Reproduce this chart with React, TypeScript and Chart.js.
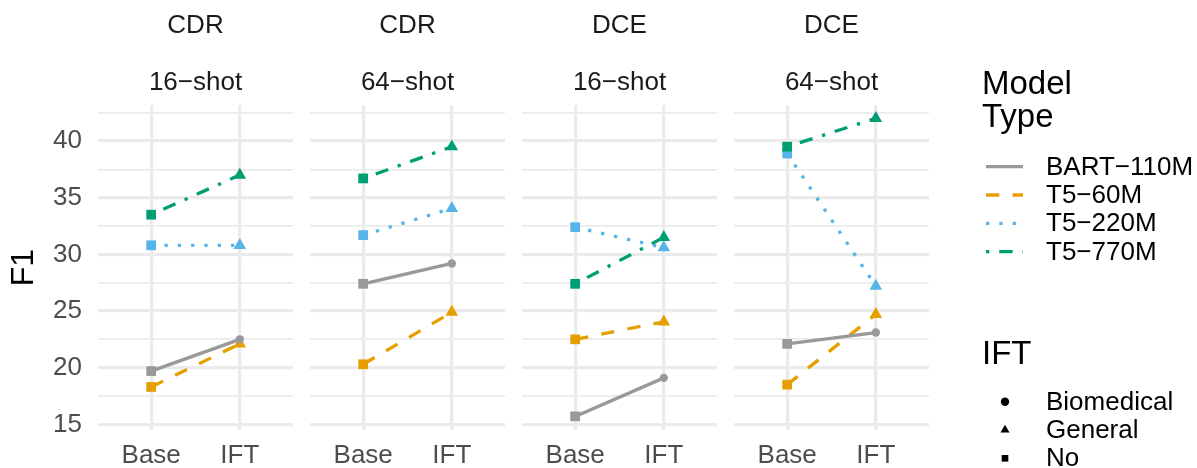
import React, { useEffect, useRef } from 'react';
import { Chart, registerables } from 'chart.js';

Chart.register(...registerables);

// ---- data ----
const stripTask = ['CDR', 'CDR', 'DCE', 'DCE'];
const stripShot = ['16−shot', '64−shot', '16−shot', '64−shot'];
const xLabels = ['Base', 'IFT'];
const yGridValues = [15, 17.5, 20, 22.5, 25, 27.5, 30, 32.5, 35, 37.5, 40, 42.5];
const yLabelValues = [15, 20, 25, 30, 35, 40];

const modelNames = ['BART−110M', 'T5−60M', 'T5−220M', 'T5−770M'];
const modelIFTType = ['Biomedical', 'General', 'General', 'General'];
const iftTypes = ['Biomedical', 'General', 'No'];

// one value per panel: CDR16, CDR64, DCE16, DCE64
const bartBase = [19.7, 27.4, 15.7, 22.1];
const bartIFT = [22.5, 29.2, 19.1, 23.1];
const t5s60Base = [18.3, 20.3, 22.5, 18.5];
const t5s60IFT = [22.1, 24.9, 24.05, 24.7];
const t5s220Base = [30.8, 31.7, 32.4, 38.9];
const t5s220IFT = [30.8, 34.05, 30.6, 27.2];
const t5s770Base = [33.5, 36.7, 27.4, 39.5];
const t5s770IFT = [37.0, 39.5, 31.5, 42.0];

const baseValues = [bartBase, t5s60Base, t5s220Base, t5s770Base];
const iftValues = [bartIFT, t5s60IFT, t5s220IFT, t5s770IFT];

// ---- styles ----
const W = 1197;
const H = 468;
const FONT = "'Liberation Sans', Arial, Helvetica, sans-serif";
const modelColors = ['#999999', '#E69F00', '#56B4E9', '#009E73'];
const modelDash = [[], [13.3, 13.3], [3.3, 10], [3.3, 10, 13.3, 10]];
const drawRank = [2, 3, 1, 0]; // lower = on top
const shapeStyle: Record<string, string> = { Biomedical: 'circle', General: 'triangle', No: 'rect' };
const shapeRadius: Record<string, number> = { Biomedical: 4.2, General: 7.3, No: 6.9 };
const legendShapeRadius: Record<string, number> = { Biomedical: 4.2, General: 5.2, No: 4.7 };
const panelLeft = [98, 310, 522, 734];
const panelWidth = 195;
const GRID = '#EBEBEB';

const legendPlugin = {
  id: 'ggLegend',
  afterDraw(chart: any) {
    const ctx = chart.ctx;
    ctx.save();
    ctx.fillStyle = '#000000';
    ctx.textAlign = 'left';
    ctx.textBaseline = 'alphabetic';
    ctx.font = `33px ${FONT}`;
    ctx.fillText('Model', 982, 93.5);
    ctx.fillText('Type', 982, 126.5);
    ctx.fillText('IFT', 982, 363.5);

    const itemY = [166.7, 195, 223.3, 251.7];
    modelNames.forEach((name, i) => {
      ctx.save();
      ctx.strokeStyle = modelColors[i];
      ctx.lineWidth = 3.3;
      ctx.lineCap = 'butt';
      ctx.setLineDash(modelDash[i]);
      ctx.beginPath();
      ctx.moveTo(986, itemY[i]);
      ctx.lineTo(1023, itemY[i]);
      ctx.stroke();
      ctx.restore();
      ctx.font = `26px ${FONT}`;
      ctx.textBaseline = 'middle';
      ctx.fillStyle = '#000000';
      ctx.fillText(name, 1046, itemY[i] + 1);
    });

    const shapeY = [401.7, 430, 458.3];
    iftTypes.forEach((t, i) => {
      ctx.fillStyle = '#000000';
      ctx.strokeStyle = '#000000';
      (Chart as any).helpers?.drawPoint;
      drawShape(ctx, shapeStyle[t], 1005, shapeY[i], legendShapeRadius[t]);
      ctx.font = `26px ${FONT}`;
      ctx.textBaseline = 'middle';
      ctx.fillText(t, 1046, shapeY[i] + 1);
    });
    ctx.restore();
  },
};

function drawShape(ctx: CanvasRenderingContext2D, style: string, x: number, y: number, r: number) {
  ctx.beginPath();
  if (style === 'circle') {
    ctx.arc(x, y, r, 0, Math.PI * 2);
  } else if (style === 'triangle') {
    ctx.moveTo(x, y - r);
    ctx.lineTo(x + r * Math.sin((2 * Math.PI) / 3), y - r * Math.cos((2 * Math.PI) / 3));
    ctx.lineTo(x + r * Math.sin((4 * Math.PI) / 3), y - r * Math.cos((4 * Math.PI) / 3));
    ctx.closePath();
  } else {
    const s = r * Math.SQRT1_2;
    ctx.rect(x - s, y - s, 2 * s, 2 * s);
  }
  ctx.fill();
}

function buildConfig(p: number): any {
  const datasets: any[] = [];
  modelNames.forEach((name, i) => {
    datasets.push({
      label: name + ' line',
      data: [
        { x: 1, y: baseValues[i][p] },
        { x: 2, y: iftValues[i][p] },
      ],
      showLine: true,
      borderColor: modelColors[i],
      borderWidth: 3.3,
      borderDash: modelDash[i],
      borderCapStyle: 'butt',
      pointRadius: 0,
      order: 10 + drawRank[i],
    });
  });
  modelNames.forEach((name, i) => {
    const ift = modelIFTType[i];
    datasets.push({
      label: name,
      data: [
        { x: 1, y: baseValues[i][p] },
        { x: 2, y: iftValues[i][p] },
      ],
      showLine: false,
      pointStyle: [shapeStyle.No, shapeStyle[ift]],
      pointRadius: [shapeRadius.No, shapeRadius[ift]],
      pointBackgroundColor: modelColors[i],
      pointBorderWidth: 0,
      pointBorderColor: modelColors[i],
      order: drawRank[i],
    });
  });

  const first = p === 0;
  return {
    type: 'scatter',
    data: { datasets },
    plugins: p === 3 ? [legendPlugin] : [],
    options: {
      responsive: false,
      animation: false,
      events: [],
      layout: {
        padding: {
          left: first ? 0 : panelLeft[p],
          right: W - panelLeft[p] - panelWidth,
          top: 0,
          bottom: 0,
        },
      },
      plugins: {
        legend: { display: false },
        tooltip: { enabled: false },
        title: {
          display: true,
          text: stripTask[p],
          fullSize: false,
          color: '#1A1A1A',
          font: { family: FONT, size: 26, weight: 'normal', lineHeight: 1.2 },
          padding: { top: 10.7, bottom: 25 },
        },
        subtitle: {
          display: true,
          text: stripShot[p],
          fullSize: false,
          color: '#1A1A1A',
          font: { family: FONT, size: 26, weight: 'normal', lineHeight: 1.2 },
          padding: { top: 0, bottom: 6.9 },
        },
      },
      scales: {
        x: {
          type: 'linear',
          min: 0.4,
          max: 2.6,
          afterBuildTicks: (scale: any) => {
            scale.ticks = xLabels.map((_, k) => ({ value: k + 1 }));
          },
          afterFit: (scale: any) => {
            scale.height = 38;
          },
          ticks: {
            callback: (v: number) => xLabels[Math.round(v) - 1] ?? '',
            color: '#4D4D4D',
            font: { family: FONT, size: 26, lineHeight: 1.2 },
            padding: 10,
            maxRotation: 0,
            autoSkip: false,
          },
          grid: { color: GRID, lineWidth: 3.3, drawTicks: false },
          border: { display: false },
        },
        y: {
          type: 'linear',
          min: 14.5,
          max: 43.18,
          afterBuildTicks: (scale: any) => {
            scale.ticks = yGridValues.map((v) => ({ value: v }));
          },
          afterFit: (scale: any) => {
            scale.width = first ? panelLeft[0] : 0;
          },
          ticks: {
            display: first,
            callback: (v: number) => (yLabelValues.includes(v) ? String(v) : ''),
            color: '#4D4D4D',
            font: { family: FONT, size: 26, lineHeight: 1.2 },
            padding: 16,
            autoSkip: false,
          },
          title: {
            display: first,
            text: 'F1',
            color: '#000000',
            font: { family: FONT, size: 32, lineHeight: 1.2 },
            padding: { top: 5, bottom: 0 },
          },
          grid: {
            color: GRID,
            lineWidth: (c: any) => (c.tick && yLabelValues.includes(c.tick.value) ? 3.3 : 1.7),
            drawTicks: false,
          },
          border: { display: false },
        },
      },
    },
  };
}

function Panel({ index }: { index: number }) {
  const ref = useRef<HTMLCanvasElement | null>(null);
  useEffect(() => {
    if (!ref.current) return;
    const chart = new Chart(ref.current, buildConfig(index));
    return () => chart.destroy();
  }, [index]);
  return (
    <canvas
      ref={ref}
      width={W}
      height={H}
      style={{ position: 'absolute', left: 0, top: 0, width: W, height: H }}
    />
  );
}

export default function App() {
  useEffect(() => {
    document.body.style.margin = '0';
  }, []);
  return (
    <div style={{ position: 'absolute', left: 0, top: 0, width: W, height: H, background: '#FFFFFF' }}>
      {[0, 1, 2, 3].map((i) => (
        <Panel key={i} index={i} />
      ))}
    </div>
  );
}
